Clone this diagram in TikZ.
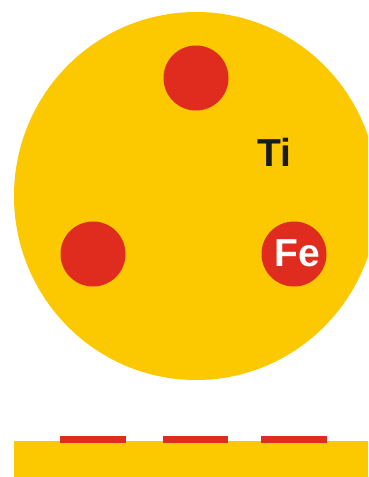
\documentclass[tikz,border=0pt]{standalone}
\usepackage{fontspec}
\setmainfont{Liberation Sans}
\usepackage{xcolor}
\usetikzlibrary{shapes.geometric}
\definecolor{tiyellow}{HTML}{FCC800}
\definecolor{fered}{HTML}{DF2C1E}
\definecolor{symblack}{HTML}{1A1A1A}
\tikzset{
  matrixdisc/.style={
    ellipse, fill=tiyellow, inner sep=0pt,
    minimum width=364pt, minimum height=368pt
  },
  grain/.style={
    circle, fill=fered, inner sep=0pt, minimum size=65pt
  },
  symbol/.style={
    inner sep=0pt, anchor=base,
    font=\fontsize{39}{39}\selectfont\bfseries
  },
  strip/.style={fill=fered}
}

\begin{document}
\begin{tikzpicture}[x=1pt, y=-1pt]
        \useasboundingbox (0,0) rectangle (368,477);
        \clip (0,0) rectangle (368,477);
        % top view
        \node[matrixdisc] (ti) at (196,196) {};
        \node[grain] (g1) at (196,78) {};
        \node[grain] (g2) at (93,254) {};
        \node[grain] (fe) at (294,254) {};
        \node[symbol, text=symblack] (tilabel) at (274,166) {Ti};
        \node[symbol, text=white] (felabel) at (297,266) {Fe};
        % side view
        \fill[tiyellow] (14,441) rectangle (368,477);
        \foreach \a/\b in {60/126, 163/228, 261/327}{%
          \fill[strip] (\a,436) rectangle (\b,443);}
      \end{tikzpicture}
\end{document}
